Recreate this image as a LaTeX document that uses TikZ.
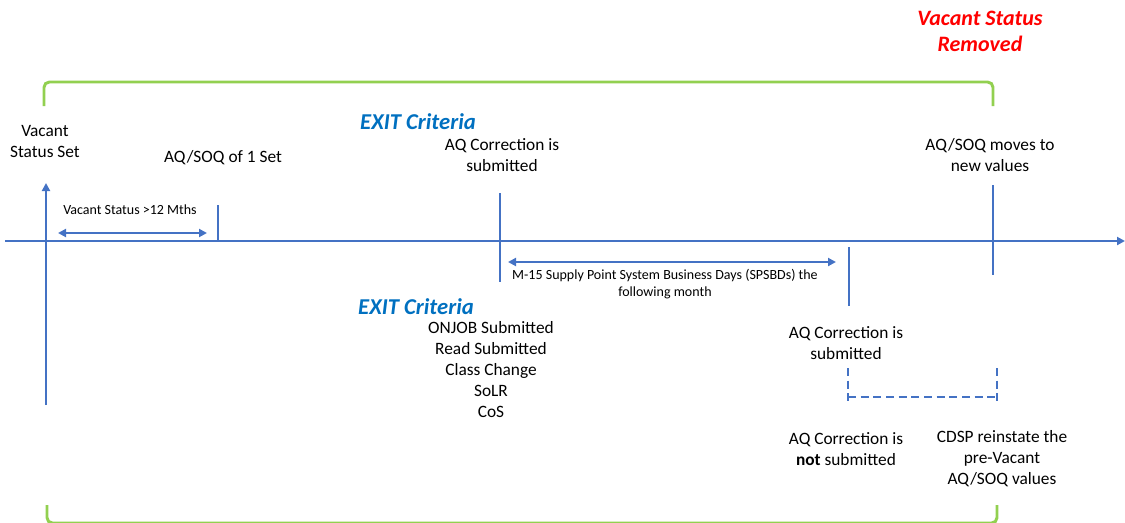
\documentclass[tikz,border=0pt]{standalone}
\usepackage{fontspec}
\setmainfont{Carlito}
\usetikzlibrary{arrows.meta}
\definecolor{lineblue}{HTML}{4472C4}
\definecolor{textblue}{HTML}{0070C0}
\definecolor{brgreen}{HTML}{92D050}
\definecolor{alertred}{HTML}{FF0000}

\begin{document}
\begin{tikzpicture}[x=0.75pt,y=-0.75pt,
  tick/.style={draw=lineblue,line width=2.2pt},
  span/.style={lineblue,line width=2.2pt,{Triangle[length=6pt,width=6pt]}-{Triangle[length=6pt,width=6pt]}},
  lbl/.style={align=center,font=\fontsize{13}{15.75}\selectfont,inner sep=0pt},
  small/.style={align=center,font=\fontsize{10.5}{12.75}\selectfont,inner sep=0pt},
  crit/.style={textblue,font=\fontsize{17}{19}\selectfont\bfseries\itshape,inner sep=0pt},
  brace/.style={brgreen,line width=2.2pt,rounded corners=4pt}]
\useasboundingbox (0,0) rectangle (1125,522);
\clip (0,0) rectangle (1125,522);

% points on the time line
\coordinate (start) at (5,241);
\coordinate (stop) at (1125,241);
\coordinate (setlow) at (46,405);
\coordinate (settop) at (46,183);
\coordinate (onebase) at (218,241);
\coordinate (onetop) at (218,205);
\coordinate (corrtop) at (500,193);
\coordinate (corrlow) at (500,282);
\coordinate (mfiftop) at (849,247);
\coordinate (mfiflow) at (849,306);
\coordinate (newtop) at (993,185);
\coordinate (newlow) at (993,275);

% time line and ticks
\draw[tick,-{Triangle[length=6pt,width=6pt]}] (start) -- (stop);
\draw[tick,-{Triangle[length=6pt,width=6pt]}] (setlow) -- (settop);
\draw[tick] (onebase) -- (onetop);
\draw[tick] (corrtop) -- (corrlow);
\draw[tick] (mfiftop) -- (mfiflow);
\draw[tick] (newtop) -- (newlow);

% durations
\coordinate (twl) at (58,233);
\coordinate (twr) at (207,233);
\draw[span] (twl) -- (twr);
\node[small] (twelve) at (130,210) {Vacant Status >12 Mths};
\coordinate (mfl) at (508,262);
\coordinate (mfr) at (836,262);
\draw[span] (mfl) -- (mfr);
\node[small] (mfifteen) at (665,284) {M-15 Supply Point System Business Days (SPSBDs) the\\following month};

% fallback branch (dashed)
\coordinate (fbla) at (848,368);
\coordinate (fblb) at (848,405);
\coordinate (fbra) at (997,368);
\coordinate (fbrb) at (997,405);
\coordinate (fbml) at (848,397);
\coordinate (fbmr) at (997,397);
\draw[tick,dashed,dash pattern=on 6pt off 3.5pt] (fbla) -- (fblb);
\draw[tick,dashed,dash pattern=on 6pt off 3.5pt] (fbra) -- (fbrb);
\draw[tick,dashed,dash pattern=on 6pt off 3.5pt] (fbml) -- (fbmr);

% green brackets
\draw[brace] (44,106) -- (44,82) -- (993,82) -- (993,106);
\draw[brace] (47,505) -- (47,523) -- (997,523) -- (997,505);

% labels above the line
\node[lbl] (vset) at (45,141) {Vacant\\Status Set};
\node[lbl] (aqone) at (223,158) {AQ/SOQ of 1 Set};
\node[crit] (exita) at (418,122) {EXIT Criteria};
\node[lbl] (corra) at (502,155) {AQ Correction is\\submitted};
\node[lbl] (moves) at (990,155) {AQ/SOQ moves to\\new values};
\node[crit,alertred,align=center,font=\fontsize{16.5}{19.5}\selectfont\bfseries\itshape] (removed) at (980,31) {Vacant Status\\Removed};

% labels below the line
\node[crit] (exitb) at (416,307) {EXIT Criteria};
\node[lbl] (events) at (491,369.5) {ONJOB Submitted\\Read Submitted\\Class Change\\SoLR\\CoS};
\node[lbl] (corrb) at (846,343.5) {AQ Correction is\\submitted};
\node[lbl] (corrnot) at (846,449.5) {AQ Correction is\\\textbf{not} submitted};
\node[lbl] (cdsp) at (1002,459) {CDSP reinstate the\\pre-Vacant\\AQ/SOQ values};
\end{tikzpicture}
\end{document}
